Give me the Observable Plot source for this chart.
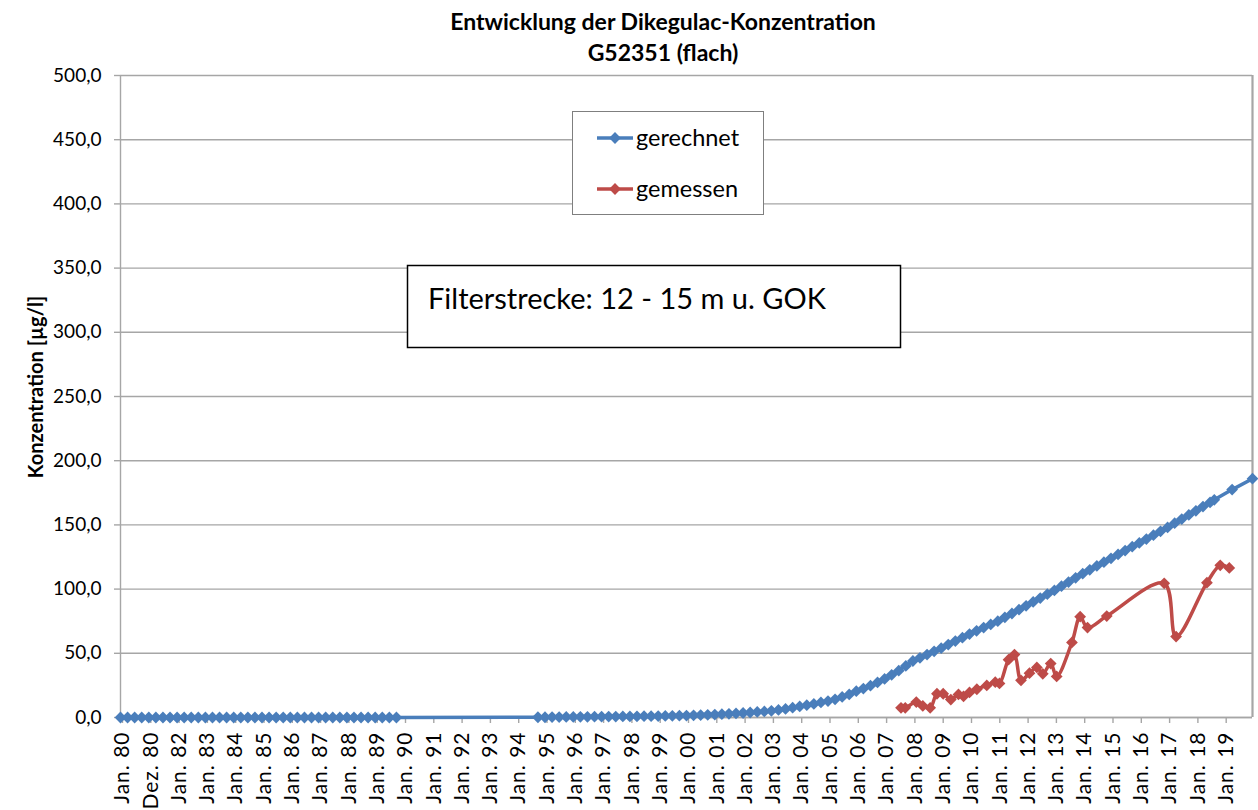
<!DOCTYPE html>
<html>
<head>
<meta charset="utf-8">
<script src="https://cdn.jsdelivr.net/npm/d3@7"></script>
<script src="https://cdn.jsdelivr.net/npm/@observablehq/plot@0.6"></script>
<style>
  html, body { margin: 0; padding: 0; background: #fff; }
  #wrap { position: relative; width: 1258px; height: 810px; overflow: hidden; font-family: Lato, "Open Sans", sans-serif; }
  #wrap > svg { position: absolute; left: 0; top: 0; }
  #wrap svg [aria-label="x-axis tick label"] text { letter-spacing: 1px; }
</style>
</head>
<body>
<div id="wrap"></div>
<script>
// ---------- data ----------
const titleLines = ["Entwicklung der Dikegulac-Konzentration", "G52351 (flach)"];
const yLabel = "Konzentration [µg/l]";
const annotation = "Filterstrecke: 12 - 15 m u. GOK";
const seriesNames = ["gerechnet", "gemessen"];

const tickYears = [1980,1981,1982,1983,1984,1985,1986,1987,1988,1989,1990,1991,1992,1993,1994,1995,1996,1997,1998,1999,
                   2000,2001,2002,2003,2004,2005,2006,2007,2008,2009,2010,2011,2012,2013,2014,2015,2016,2017,2018,2019];
const tickLabels = ["Jan. 80","Dez. 80","Jan. 82","Jan. 83","Jan. 84","Jan. 85","Jan. 86","Jan. 87","Jan. 88","Jan. 89",
                    "Jan. 90","Jan. 91","Jan. 92","Jan. 93","Jan. 94","Jan. 95","Jan. 96","Jan. 97","Jan. 98","Jan. 99",
                    "Jan. 00","Jan. 01","Jan. 02","Jan. 03","Jan. 04","Jan. 05","Jan. 06","Jan. 07","Jan. 08","Jan. 09",
                    "Jan. 10","Jan. 11","Jan. 12","Jan. 13","Jan. 14","Jan. 15","Jan. 16","Jan. 17","Jan. 18","Jan. 19"];
const yTicks = [0, 50, 100, 150, 200, 250, 300, 350, 400, 450, 500];

// gerechnet (computed)
const blueYears = [
  1980,1980.25,1980.5,1980.75,1981,1981.25,1981.5,1981.75,1982,1982.25,1982.5,1982.75,1983,1983.25,1983.5,1983.75,
  1984,1984.25,1984.5,1984.75,1985,1985.25,1985.5,1985.75,1986,1986.25,1986.5,1986.75,1987,1987.25,1987.5,1987.75,
  1988,1988.25,1988.5,1988.75,1989,1989.25,1989.5,1989.75,
  1994.75,1995,1995.25,1995.5,1995.75,1996,1996.25,1996.5,1996.75,1997,1997.25,1997.5,1997.75,1998,1998.25,1998.5,1998.75,
  1999,1999.25,1999.5,1999.75,2000,2000.25,2000.5,2000.75,2001,2001.25,2001.5,2001.75,2002,2002.25,2002.5,2002.75,
  2003,2003.25,2003.5,2003.75,2004,2004.25,2004.5,2004.75,2005,2005.25,2005.5,2005.75,2006,2006.25,2006.5,2006.75,
  2007,2007.25,2007.5,2007.75,2008,2008.25,2008.5,2008.75,2009,2009.25,2009.5,2009.75,2010,2010.25,2010.5,2010.75,
  2011,2011.25,2011.5,2011.75,2012,2012.25,2012.5,2012.75,2013,2013.25,2013.5,2013.75,2014,2014.25,2014.5,2014.75,
  2015,2015.25,2015.5,2015.75,2016,2016.25,2016.5,2016.75,2017,2017.25,2017.5,2017.75,2018,2018.25,2018.5,2018.65,
  2019.28,2020
];
const blueValues = [
  0,0,0,0,0,0,0,0,0,0,0,0,0,0,0,0,
  0,0,0,0,0,0,0,0,0,0,0,0,0,0,0,0,
  0,0,0,0,0,0,0,0,
  0.2,0.2,0.3,0.3,0.4,0.4,0.5,0.5,0.6,0.6,0.7,0.7,0.8,0.8,0.9,1.0,1.0,
  1.1,1.2,1.3,1.4,1.5,1.7,1.9,2.1,2.3,2.6,2.9,3.2,3.5,3.9,4.3,4.7,
  5.2,5.9,6.7,7.6,8.6,9.6,10.6,11.7,12.8,14.2,16.0,18.0,20.5,22.5,24.8,27.3,
  30.0,33.2,36.5,40.2,44.0,46.5,49.0,51.5,54.0,56.8,59.5,62.2,65.0,67.5,70.0,72.5,
  75.0,78.0,81.0,84.0,87.0,90.0,93.0,96.0,99.0,102.3,105.5,108.8,112.0,115.0,118.0,121.0,
  124.0,127.0,130.0,133.0,136.0,139.0,142.0,145.0,148.0,151.3,154.5,157.8,161.0,164.3,167.5,169.5,
  177.5,186.0
];

// gemessen (measured)
const redYears = [2007.58,2007.73,2008.12,2008.35,2008.61,2008.85,2009.07,2009.34,2009.61,2009.79,2010.00,2010.26,
                  2010.61,2010.91,2011.06,2011.38,2011.59,2011.82,2012.12,2012.38,2012.59,2012.87,2013.08,2013.62,
                  2013.91,2014.17,2014.85,2016.88,2017.30,2018.39,2018.86,2019.18];
const redValues = [7.5,7.5,12,9,7.5,18.5,18.5,14,18,16.5,19.5,22,
                   25,27.5,26.5,45,49,29,34.5,39,34,42,32,58.5,
                   78.5,70,79,104.5,63,105,118.5,116.5];

// ---------- build ----------
const blueColor = "#4a7ebb";
const redColor = "#be4b48";
const gridColor = "#a6a6a6";
const font = "Lato, 'Open Sans', sans-serif";

const blue = blueYears.map((x, i) => ({x, y: blueValues[i]}));
const red = redYears.map((x, i) => ({x, y: redValues[i]}));
const labelMap = new Map(tickYears.map((y, i) => [y, tickLabels[i]]));
const fmtY = d => d.toFixed(1).replace(".", ",");

const chart = Plot.plot({
  width: 1258,
  height: 810,
  marginLeft: 120,
  marginRight: 6,
  marginTop: 75,
  marginBottom: 93,
  style: {fontFamily: font, color: "#000", background: "transparent", overflow: "visible"},
  x: {type: "linear", domain: [1980, 2020]},
  y: {domain: [0, 500]},
  marks: [
    Plot.gridY(yTicks, {stroke: gridColor, strokeOpacity: 1, strokeWidth: 1.4}),
    Plot.ruleX([1980], {stroke: gridColor, strokeWidth: 1.4}),
    Plot.ruleX([2020], {stroke: gridColor, strokeWidth: 2.2}),
    Plot.ruleY([0], {stroke: gridColor, strokeWidth: 1.4}),
    Plot.axisY({ticks: yTicks, tickFormat: fmtY, tickSize: 6, tickPadding: 13, fontSize: 19,
                stroke: gridColor, strokeWidth: 1.4, fill: "#000", label: null}),
    Plot.axisX({ticks: tickYears, tickFormat: d => labelMap.get(d), tickRotate: -90, tickSize: 6, tickPadding: 8,
                fontSize: 21, stroke: gridColor, strokeWidth: 1.4, fill: "#000", label: null, dx: 2}),
    Plot.line(blue, {x: "x", y: "y", stroke: blueColor, strokeWidth: 3.5}),
    Plot.dot(blue, {x: "x", y: "y", symbol: "diamond2", r: 5.3, fill: blueColor, stroke: null}),
    Plot.line(red, {x: "x", y: "y", stroke: redColor, strokeWidth: 3.5, curve: "catmull-rom"}),
    Plot.dot(red, {x: "x", y: "y", symbol: "diamond2", r: 5.3, fill: redColor, stroke: null})
  ]
});

const wrap = document.getElementById("wrap");
wrap.appendChild(chart);
d3.select(chart).selectAll("g[aria-label='x-axis tick label'] text").style("letter-spacing", "1px");

// overlay: title, y label, legend, annotation box
const ov = d3.select(wrap).append("svg")
  .attr("width", 1258).attr("height", 810)
  .style("font-family", font)
  .style("pointer-events", "none");

ov.append("text").attr("x", 663).attr("y", 30).attr("text-anchor", "middle")
  .attr("font-size", 23).attr("font-weight", "bold").attr("fill", "#000").text(titleLines[0]);
ov.append("text").attr("x", 663).attr("y", 61).attr("text-anchor", "middle")
  .attr("font-size", 23).attr("font-weight", "bold").attr("fill", "#000").text(titleLines[1]);

ov.append("text").attr("transform", "translate(43,387) rotate(-90)").attr("text-anchor", "middle")
  .attr("font-size", 20).attr("font-weight", "bold").attr("fill", "#000").text(yLabel);

// legend
const lg = ov.append("g");
lg.append("rect").attr("x", 572.5).attr("y", 111.5).attr("width", 191).attr("height", 103)
  .attr("fill", "#fff").attr("stroke", "#7f7f7f").attr("stroke-width", 1);
const diamond = d3.symbol(d3.symbolDiamond2, Math.PI * 5.3 * 5.3)();
[[seriesNames[0], blueColor, 138], [seriesNames[1], redColor, 189]].forEach(([name, c, y]) => {
  lg.append("line").attr("x1", 597).attr("x2", 633).attr("y1", y).attr("y2", y)
    .attr("stroke", c).attr("stroke-width", 3.5);
  lg.append("path").attr("d", diamond).attr("transform", `translate(615,${y})`).attr("fill", c);
  lg.append("text").attr("x", 636).attr("y", y + 8).attr("font-size", 23.5).attr("fill", "#000").text(name);
});

// annotation box
ov.append("rect").attr("x", 407.5).attr("y", 265.5).attr("width", 493).attr("height", 82)
  .attr("fill", "#fff").attr("stroke", "#000").attr("stroke-width", 1.5);
ov.append("text").attr("x", 428).attr("y", 309).attr("font-size", 29).attr("fill", "#000").text(annotation);
</script>
</body>
</html>
